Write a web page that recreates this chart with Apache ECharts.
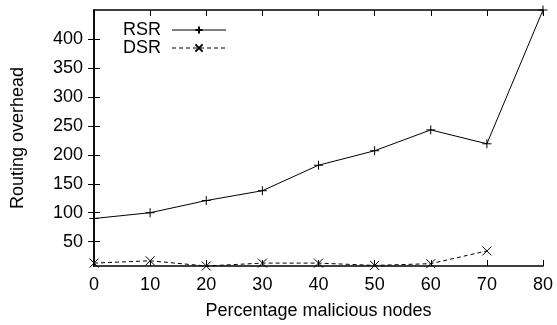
<!DOCTYPE html>
<html>
<head>
<meta charset="utf-8">
<script src="https://cdn.jsdelivr.net/npm/echarts@6/dist/echarts.min.js"></script>
<style>
  html, body { margin: 0; padding: 0; background: #fff; }
  #chart { width: 557px; height: 325px; }
</style>
</head>
<body>
<div id="chart"></div>
<script>
// percentage of malicious nodes
const xValues = [0, 10, 20, 30, 40, 50, 60, 70, 80];
const rsr = [90, 100, 121, 138, 182, 207, 243, 219, 450];
const dsr = [13, 17, 8, 13, 13, 9, 12, 34];
const yTicks = [50, 100, 150, 200, 250, 300, 350, 400];
const xTicks = [0, 10, 20, 30, 40, 50, 60, 70, 80];

const font = 'Liberation Sans, Arial, sans-serif';
const fs = 18;
const plus = 'path://M0,5L10,5M5,0L5,10';
const cross = 'path://M0,0L10,10M0,10L10,0';

const chart = echarts.init(document.getElementById('chart'));

const axisLine = { show: true, lineStyle: { color: '#000', width: 1.5 } };
const tick = { show: true, inside: true, length: 6, lineStyle: { color: '#000', width: 1 } };

chart.setOption({
  backgroundColor: '#fff',
  animation: false,
  textStyle: { fontFamily: font, color: '#000' },
  grid: { left: 94, right: 14, top: 10, bottom: 58 },
  legend: {
    left: 118,
    top: 16,
    orient: 'vertical',
    align: 'right',
    itemWidth: 54,
    itemHeight: 9,
    itemGap: 0,
    lineStyle: { width: 1 },
    textStyle: { fontFamily: font, fontSize: fs, color: '#000', padding: [0, 6, 0, 0] },
    data: ['RSR', 'DSR'],
  },
  xAxis: [
    {
      type: 'value',
      min: 0,
      max: 80,
      interval: 10,
      name: 'Percentage malicious nodes',
      nameLocation: 'middle',
      nameGap: 36,
      nameTextStyle: { fontFamily: font, fontSize: fs, color: '#000' },
      axisLine,
      axisTick: tick,
      axisLabel: { fontFamily: font, fontSize: fs, color: '#000', margin: 10,
        customValues: xTicks },
      splitLine: { show: false },
    },
    {
      type: 'value',
      position: 'top',
      min: 0,
      max: 80,
      interval: 10,
      axisLine,
      axisTick: tick,
      axisLabel: { show: false },
      splitLine: { show: false },
    },
  ],
  yAxis: [
    {
      type: 'value',
      min: 8,
      max: 450,
      name: 'Routing overhead',
      nameLocation: 'middle',
      nameGap: 67,
      nameTextStyle: { fontFamily: font, fontSize: fs, color: '#000' },
      axisLine,
      axisTick: Object.assign({ customValues: yTicks }, tick),
      axisLabel: { fontFamily: font, fontSize: fs, color: '#000', margin: 11,
        customValues: yTicks },
      splitLine: { show: false },
    },
    {
      type: 'value',
      position: 'right',
      min: 8,
      max: 450,
      axisLine,
      axisTick: Object.assign({ customValues: yTicks }, tick),
      axisLabel: { show: false },
      splitLine: { show: false },
    },
  ],
  series: [
    {
      name: 'RSR',
      type: 'line',
      data: xValues.map((x, i) => [x, rsr[i]]),
      symbol: plus,
      symbolSize: 9,
      showAllSymbol: true,
      color: '#000',
      lineStyle: { color: '#000', width: 1 },
      itemStyle: { color: 'none', borderColor: '#000', borderWidth: 1 },
      clip: false,
    },
    {
      name: 'DSR',
      type: 'line',
      data: dsr.map((v, i) => [xValues[i], v]),
      symbol: cross,
      symbolSize: 9,
      showAllSymbol: true,
      color: '#000',
      lineStyle: { color: '#000', width: 1, type: [4, 3] },
      itemStyle: { color: 'none', borderColor: '#000', borderWidth: 1 },
      clip: false,
    },
  ],
});
</script>
</body>
</html>
